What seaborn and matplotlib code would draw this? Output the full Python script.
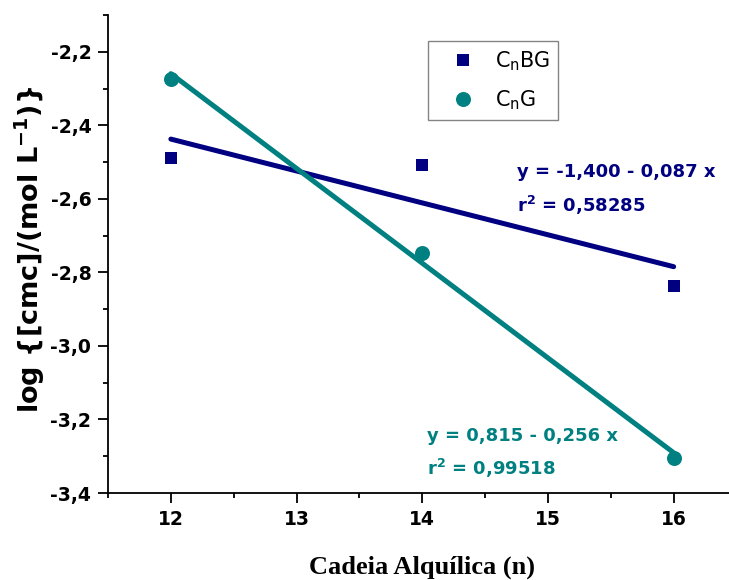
import matplotlib
matplotlib.use("Agg")
import matplotlib.pyplot as plt
import seaborn as sns
import numpy as np
import pandas as pd
from matplotlib.ticker import MultipleLocator, FuncFormatter
from matplotlib.lines import Line2D

sns.set_theme(style="ticks")
plt.rcParams['font.family'] = ['DejaVu Sans']
plt.rcParams['mathtext.fontset'] = 'dejavusans'
plt.rcParams['text.color'] = 'black'
plt.rcParams['axes.labelcolor'] = 'black'

chain = [12, 14, 16]
cnbg = [-2.489, -2.508, -2.836]
cng = [-2.274, -2.746, -3.305]
series_labels = [r'C$_\mathregular{n}$BG', r'C$_\mathregular{n}$G']
colors = ['#000080', '#008080']
eq_texts = [("y = -1,400 - 0,087 x", r"r$^\mathbf{2}$ = 0,58285"),
            ("y = 0,815 - 0,256 x", r"r$^\mathbf{2}$ = 0,99518")]

df = pd.DataFrame({'n': chain * 2,
                   'logcmc': cnbg + cng,
                   'serie': [series_labels[0]] * 3 + [series_labels[1]] * 3})

W, H = 729, 580
fig = plt.figure(figsize=(W / 100, H / 100), dpi=100)
ax = fig.add_axes([108 / W, 1 - 493 / H, (W - 108) / W, (493 - 15) / H])

markers = ['s', 'o']
sizes = [9.2, 10.8]
for i, lab in enumerate(series_labels):
    sub = df[df['serie'] == lab]
    sns.regplot(data=sub, x='n', y='logcmc', ax=ax, ci=None, color=colors[i],
                marker=markers[i], truncate=True,
                scatter_kws=dict(s=sizes[i] ** 2, linewidths=0, alpha=1, zorder=3),
                line_kws=dict(lw=3.6, solid_capstyle='round', zorder=2))

ax.set_xlim(11.5, 11.5 + 621 / 125.7)
ax.set_ylim(-3.4, -2.1)
ax.xaxis.set_major_locator(MultipleLocator(1))
ax.xaxis.set_minor_locator(MultipleLocator(0.5))
ax.yaxis.set_major_locator(MultipleLocator(0.2))
ax.yaxis.set_minor_locator(MultipleLocator(0.1))
ax.yaxis.set_major_formatter(FuncFormatter(lambda v, p: f"{v:.1f}".replace('.', ',')))
ax.xaxis.set_major_formatter(FuncFormatter(lambda v, p: f"{v:.0f}"))
for s in ['top', 'right']:
    ax.spines[s].set_visible(False)
for s in ['left', 'bottom']:
    ax.spines[s].set_linewidth(1.3)
    ax.spines[s].set_color('black')
ax.tick_params(which='major', length=7, width=1.3, direction='out', colors='black',
               labelsize=13.5, pad=5)
ax.tick_params(which='minor', length=3.6, width=1.3, direction='out', colors='black')
for lbl in ax.get_xticklabels() + ax.get_yticklabels():
    lbl.set_fontweight('bold')

ax.set_xlabel('')
ax.set_ylabel('')
fig.text(422 / W, 1 - 567 / H, 'Cadeia Alquílica (n)', ha='center', va='center',
         fontsize=19, fontweight='bold', family='Liberation Serif', color='black')
fig.text(30 / W, 1 - 250 / H, r'log {[cmc]/(mol L$^\mathbf{-1}$)}', rotation=90,
         ha='center', va='center', fontsize=19.5, fontweight='bold', color='black')

ax.text(14.75, -2.527, eq_texts[0][0], color=colors[0], fontsize=13, fontweight='bold', va='center')
ax.text(14.75, -2.617, eq_texts[0][1], color=colors[0], fontsize=13, fontweight='bold', va='center')
ax.text(14.04, -3.245, eq_texts[1][0], color=colors[1], fontsize=13, fontweight='bold', va='center')
ax.text(14.04, -3.332, eq_texts[1][1], color=colors[1], fontsize=13, fontweight='bold', va='center')

handles = [Line2D([], [], ls='none', marker=markers[i], color=colors[i],
                  markersize=sizes[i], markeredgewidth=0) for i in range(2)]
leg = ax.legend(handles, series_labels, loc='upper left',
                bbox_to_anchor=((428 - 108) / 621, 1 - (41 - 15) / 478), frameon=True,
                fancybox=False, edgecolor='#666666', fontsize=15,
                handletextpad=0.2, borderpad=0.4, labelspacing=0.75,
                borderaxespad=0, handlelength=2.6)
leg.get_frame().set_linewidth(1.0)
for t in leg.get_texts():
    t.set_color('black')

fig.savefig('out.png', dpi=100)
